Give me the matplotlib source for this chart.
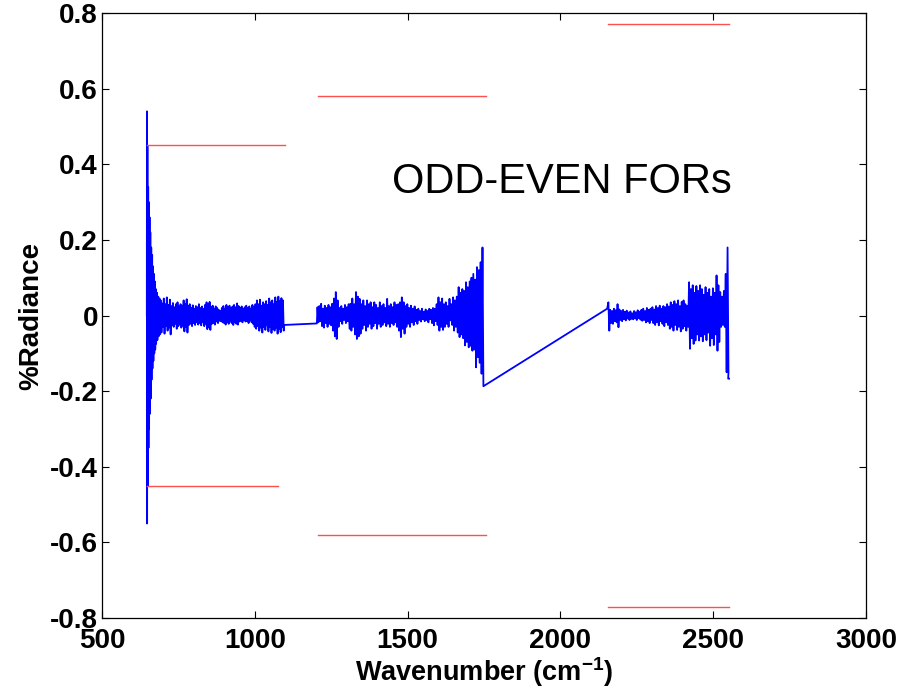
import numpy as np
import matplotlib
matplotlib.use('Agg')
import matplotlib.pyplot as plt

plt.rcParams['font.family'] = ['Liberation Sans', 'DejaVu Sans']
plt.rcParams['mathtext.fontset'] = 'custom'
plt.rcParams['mathtext.bf'] = 'Liberation Sans:bold'
plt.rcParams['mathtext.rm'] = 'Liberation Sans:bold'

# band 1: the big spike at the start, read point by point
b1_spike_wn = [646.5, 647, 647.5, 648.5, 649.5, 651, 652, 653, 654, 655.5, 656.5, 658, 659,
               661, 662, 664, 665, 667, 668, 670, 671, 673, 674, 676, 677, 680, 681, 684, 685, 688, 689]
b1_spike_val = [0.0, 0.54, -0.55, 0.45, -0.45, 0.34, -0.35, 0.30, -0.30, 0.26, -0.26, 0.22, -0.22,
                0.18, -0.17, 0.16, -0.14, 0.13, -0.12, 0.11, -0.10, 0.09, -0.09, 0.07, -0.075, 0.06, -0.065,
                0.05, -0.055, 0.045, -0.05]
# band 1 peaks, from 692 cm-1 every 5 cm-1 (lows sit half a step later)
b1_wn0, b1_step = 692, 5
b1_hi = [0.040, 0.032, 0.045, 0.030, 0.048, 0.028, 0.042, 0.025, 0.033, 0.022,
         0.030, 0.035, 0.024, 0.030, 0.026, 0.040, 0.030, 0.043, 0.025, 0.030,
         0.020, 0.027, 0.018, 0.025, 0.022, 0.030, 0.020, 0.024, 0.018, 0.028,
         0.035, 0.030, 0.036, 0.022, 0.026, 0.018, 0.024, 0.020, 0.015, 0.012,
         0.020, 0.025, 0.018, 0.028, 0.022, 0.026, 0.019, 0.024, 0.028, 0.022,
         0.032, 0.025, 0.020, 0.024, 0.018, 0.022, 0.026, 0.020, 0.024, 0.018,
         0.028, 0.022, 0.030, 0.040, 0.030, 0.042, 0.026, 0.035, 0.030, 0.038,
         0.028, 0.045, 0.035, 0.040, 0.030, 0.048, 0.036, 0.050, 0.038, 0.046, 0.040]
b1_lo = [-0.045, -0.030, -0.048, -0.028, -0.040, -0.032, -0.050, -0.025, -0.030, -0.022,
         -0.035, -0.028, -0.024, -0.032, -0.027, -0.042, -0.030, -0.045, -0.025, -0.022,
         -0.028, -0.020, -0.025, -0.018, -0.024, -0.020, -0.026, -0.018, -0.028, -0.022,
         -0.036, -0.030, -0.038, -0.022, -0.020, -0.024, -0.016, -0.020, -0.014, -0.015,
         -0.018, -0.020, -0.024, -0.018, -0.022, -0.016, -0.020, -0.025, -0.018, -0.022,
         -0.024, -0.016, -0.014, -0.018, -0.012, -0.016, -0.014, -0.020, -0.013, -0.018,
         -0.022, -0.030, -0.035, -0.028, -0.040, -0.032, -0.045, -0.030, -0.038, -0.026,
         -0.042, -0.030, -0.046, -0.035, -0.040, -0.032, -0.048, -0.036, -0.044, -0.030, -0.040]
b1_end_wn, b1_end_val = [1095], [-0.025]

# band 2
b2_start_wn, b2_start_val = [1203], [-0.021]
b2_wn0, b2_step = 1205, 6
b2_hi = [0.022, 0.025, 0.031, 0.018, 0.026, 0.020, 0.028, 0.022, 0.031, 0.045,
         0.062, 0.040, 0.020, 0.025, 0.018, 0.028, 0.022, 0.030, 0.031, 0.045,
         0.030, 0.062, 0.050, 0.044, 0.030, 0.040, 0.025, 0.040, 0.030, 0.035,
         0.022, 0.035, 0.028, 0.020, 0.035, 0.025, 0.030, 0.020, 0.044, 0.025,
         0.030, 0.022, 0.035, 0.028, 0.030, 0.035, 0.048, 0.035, 0.025, 0.030,
         0.020, 0.026, 0.018, 0.024, 0.015, 0.018, 0.012, 0.018, 0.010, 0.016,
         0.012, 0.018, 0.015, 0.020, 0.018, 0.030, 0.048, 0.035, 0.045, 0.030,
         0.035, 0.025, 0.044, 0.030, 0.048, 0.040, 0.050, 0.075, 0.060, 0.070,
         0.065, 0.088, 0.075, 0.090, 0.100, 0.110, 0.095, 0.128, 0.120, 0.141, 0.180]
b2_lo = [-0.018, -0.015, -0.028, -0.032, -0.020, -0.030, -0.022, -0.026, -0.040, -0.055,
         -0.062, -0.030, -0.015, -0.022, -0.012, -0.020, -0.015, -0.035, -0.040, -0.030,
         -0.050, -0.062, -0.055, -0.048, -0.035, -0.025, -0.040, -0.030, -0.022, -0.035,
         -0.028, -0.020, -0.035, -0.022, -0.030, -0.025, -0.018, -0.028, -0.022, -0.030,
         -0.020, -0.025, -0.018, -0.030, -0.040, -0.057, -0.035, -0.048, -0.030, -0.022,
         -0.030, -0.018, -0.025, -0.015, -0.022, -0.012, -0.016, -0.010, -0.015, -0.012,
         -0.018, -0.010, -0.020, -0.026, -0.015, -0.025, -0.040, -0.030, -0.038, -0.030,
         -0.022, -0.030, -0.013, -0.025, -0.040, -0.030, -0.045, -0.057, -0.050, -0.060,
         -0.079, -0.070, -0.084, -0.080, -0.093, -0.090, -0.137, -0.110, -0.125, -0.154, -0.163]
b2_end_wn, b2_end_val = [1748], [-0.187]

# band 3
b3_start_wn, b3_start_val = [2153], [0.018]
b3_wn0, b3_step = 2157, 6
b3_hi = [0.035, 0.015, 0.012, 0.018, 0.014, 0.030, 0.016, 0.012, 0.015, 0.010,
         0.013, 0.008, 0.011, 0.006, 0.012, 0.009, 0.014, 0.010, 0.015, 0.018,
         0.012, 0.020, 0.015, 0.018, 0.022, 0.016, 0.025, 0.020, 0.026, 0.018,
         0.025, 0.022, 0.030, 0.024, 0.035, 0.028, 0.038, 0.030, 0.040, 0.025,
         0.036, 0.040, 0.030, 0.025, 0.088, 0.070, 0.080, 0.060, 0.078, 0.065,
         0.080, 0.070, 0.055, 0.075, 0.060, 0.070, 0.050, 0.072, 0.060, 0.106,
         0.080, 0.062, 0.050, 0.065, 0.110, 0.180]
b3_lo = [-0.040, -0.020, -0.022, -0.015, -0.018, -0.031, -0.012, -0.015, -0.010, -0.013,
         -0.008, -0.012, -0.009, -0.010, -0.008, -0.012, -0.007, -0.011, -0.014, -0.012,
         -0.018, -0.015, -0.020, -0.012, -0.020, -0.025, -0.018, -0.026, -0.015, -0.022,
         -0.028, -0.018, -0.025, -0.035, -0.030, -0.040, -0.025, -0.038, -0.030, -0.042,
         -0.035, -0.028, -0.040, -0.030, -0.088, -0.060, -0.075, -0.066, -0.050, -0.066,
         -0.055, -0.068, -0.050, -0.065, -0.045, -0.080, -0.060, -0.078, -0.050, -0.093,
         -0.070, -0.030, -0.025, -0.030, -0.150, -0.150]
b3_end_wn, b3_end_val = [2549, 2552], [-0.167, -0.167]

# red limit lines
lim_start = [647, 1207, 2155]
lim_end_up = [1098, 1757, 2553]
lim_end_dn = [1076, 1757, 2553]
lim_up = [0.45, 0.58, 0.77]
lim_dn = [-0.45, -0.58, -0.77]


def zigzag(wn0, step, hi, lo):
    n = len(hi)
    xh = wn0 + step * np.arange(n)
    xl = xh + step / 2.0
    x = np.empty(2 * n)
    y = np.empty(2 * n)
    x[0::2], x[1::2] = xh, xl
    y[0::2], y[1::2] = hi, lo
    return x, y


x1, y1 = zigzag(b1_wn0, b1_step, b1_hi, b1_lo)
x2, y2 = zigzag(b2_wn0, b2_step, b2_hi, b2_lo)
x3, y3 = zigzag(b3_wn0, b3_step, b3_hi, b3_lo)
wn = np.concatenate([b1_spike_wn, x1, b1_end_wn, b2_start_wn, x2, b2_end_wn,
                     b3_start_wn, x3, b3_end_wn])
rad = np.concatenate([b1_spike_val, y1, b1_end_val, b2_start_val, y2, b2_end_val,
                      b3_start_val, y3, b3_end_val])

fig = plt.figure(figsize=(9.16, 6.93), dpi=100)
ax = fig.add_axes([0.1114, 0.1082, 0.834, 0.873])

ax.plot(wn, rad, color='#0000ff', lw=1.3)
for s, eu, ed, u, d in zip(lim_start, lim_end_up, lim_end_dn, lim_up, lim_dn):
    ax.plot([s, eu], [u, u], color='#ff5050', lw=1.0)
    ax.plot([s, ed], [d, d], color='#ff5050', lw=1.0)

ax.text(1449, 0.325, 'ODD-EVEN FORs', fontsize=30, ha='left', va='baseline',
        family=['Liberation Sans', 'DejaVu Sans'])

ax.set_xlim(500, 3000)
ax.set_ylim(-0.8, 0.8)
ax.set_xticks(np.arange(500, 3001, 500))
ax.set_yticks(np.round(np.arange(-0.8, 0.81, 0.2), 1))
ax.set_yticklabels(['-0.8', '-0.6', '-0.4', '-0.2', '0', '0.2', '0.4', '0.6', '0.8'])
ax.tick_params(direction='in', top=True, right=True, length=5, width=0.8,
               labelsize=20)
ax.tick_params(axis='y', pad=3)
ax.tick_params(axis='x', pad=7)
for lab in ax.get_xticklabels() + ax.get_yticklabels():
    lab.set_fontweight('bold')
for sp in ax.spines.values():
    sp.set_linewidth(0.9)

ax.set_xlabel(r'Wavenumber (cm$^{\mathbf{-1}}$)', fontsize=19.5, fontweight='bold', labelpad=1)
ax.set_ylabel('%Radiance', fontsize=20, fontweight='bold', labelpad=4)

fig.savefig('out.png', dpi=100)
